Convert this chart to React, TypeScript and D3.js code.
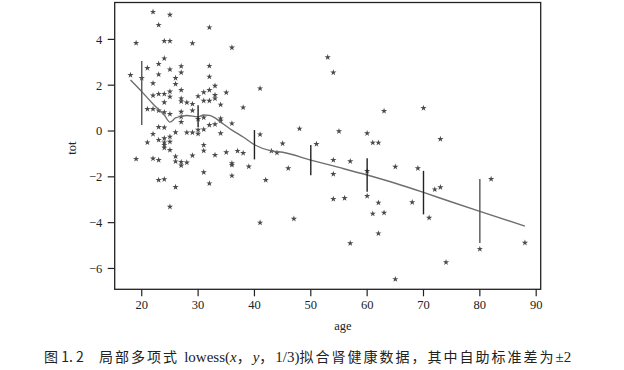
import React, { useEffect, useRef } from "react";
import * as d3 from "d3";

// ---- data ----
const ages: number[] = [
  18, 19, 19, 20, 21, 21, 21,
  22, 22, 22, 22, 22, 22,
  23, 23, 23, 23, 23, 23, 23, 23, 23,
  24, 24, 24, 24, 24, 24, 24, 24, 24, 24, 24,
  25, 25, 25, 25, 25, 25, 25, 25, 25, 25,
  26, 26, 26, 26, 26, 26,
  27, 27, 27, 27, 27, 27, 27, 27, 27, 27,
  28, 28, 28,
  29, 29, 29, 29, 29,
  30, 30, 30, 30,
  31, 31, 31, 31, 31, 31, 31,
  32, 32, 32, 32, 32, 32, 32,
  33, 33, 33, 33, 33,
  34, 34, 34, 34,
  35, 35,
  36, 36, 36, 36, 36,
  37, 38, 38, 39,
  41, 41, 41, 42, 43, 44, 45, 46, 47, 48, 51, 53,
  54, 54, 54, 54, 55, 56, 57, 57,
  60, 60, 60, 61, 61, 62, 62, 62, 63, 63,
  65, 65, 68, 69, 70, 71, 72, 73, 73, 74, 80, 82, 88,
];
const tot: number[] = [
  2.44, 3.84, -1.22, 2.31, 2.75, 0.96, -0.5,
  5.2, 2.08, 1.55, 0.96, -0.13, -1.2,
  4.63, 2.93, 2.47, 1.62, 0.89, 0.17, -0.39, -1.27, -2.14,
  3.93, 3.17, 1.62, 1.25, 0.82, 0.15, -0.32, -0.5, -0.61, -0.73, -2.11,
  5.07, 3.93, 2.69, 1.72, 1.5, 0.74, -0.25, -0.47, -0.83, -3.31,
  2.31, 2.05, -0.06, -1.11, -1.33, -2.45,
  2.83, 2.55, 1.79, 1.42, 1.29, 0.84, 0.62, 0.39, -1.35, -1.51,
  1.24, -0.07, -1.38,
  3.83, 1.18, 0.89, -0.07, -1.07,
  1.52, 0.52, 0.05, -0.12,
  1.69, 1.32, 0.59, 0.07, -0.61, -0.86, -1.8,
  4.52, 2.84, 2.37, 1.79, 1.32, 0.26, -2.29,
  1.97, 1.57, 1.42, 0.29, -1.05,
  1.15, 0.55, 0.45, -0.1,
  1.68, -0.93,
  3.64, 0.33, -1.41, -1.48, -1.95,
  -0.87, 1.03, -0.96, -1.55,
  1.86, -0.15, -4.0, -2.14, -0.87, -0.95, -0.55, -1.63, -3.83, 0.1, -0.57, 3.22,
  2.55, -1.27, -1.88, -2.97, -0.01, -2.93, -1.32, -4.9,
  -0.1, -1.75, -2.84, -0.51, -3.61, -0.51, -3.13, -4.47, 0.87, -3.57,
  -1.56, -6.47, -3.11, -1.63, 1.0, -3.79, -2.55, -0.35, -2.46, -5.73, -5.15, -2.1, -4.88,
];

// lowess fit
const fitAges: number[] = [18, 20, 22, 24, 25, 26, 27, 28, 30, 31, 32, 33, 34, 36, 38, 40, 43, 45, 50, 55, 60, 65, 70, 75, 80, 88];
const fitVals: number[] = [2.23, 1.72, 1.18, 0.7, 0.39, 0.57, 0.64, 0.68, 0.62, 0.7, 0.68, 0.57, 0.39, 0.04, -0.26, -0.6, -0.87, -0.93, -1.27, -1.59, -1.92, -2.28, -2.68, -3.1, -3.51, -4.15];

// bootstrap +/- 2 SE bars
const barAges: number[] = [20, 30, 40, 50, 60, 70, 80];
const barCenters: number[] = [1.66, 0.65, -0.6, -1.27, -1.92, -2.69, -3.49];
const barHalf: number[] = [1.4, 0.47, 0.64, 0.66, 0.73, 0.95, 1.4];

const xTicks: number[] = [20, 30, 40, 50, 60, 70, 80, 90];
const yTicks: number[] = [4, 2, 0, -2, -4, -6];

const xLabel = "age";
const yLabel = "tot";
const captionHead = "图 1. 2";

export default function App() {
  const ref = useRef<SVGSVGElement>(null);

  useEffect(() => {
    const svg = d3.select(ref.current);
    svg.selectAll("*").remove();

    const left = 114.7, right = 540.7, top = 2.5, bottom = 289.3;
    const x = d3.scaleLinear().domain([15.2, 90.8]).range([left, right]);
    const y = d3.scaleLinear().domain([-6.91, 5.61]).range([bottom, top]);
    const serif = '"Liberation Serif", "Times New Roman", Times, "DejaVu Serif", serif';

    // box
    svg.append("rect")
      .attr("x", left).attr("y", top)
      .attr("width", right - left).attr("height", bottom - top)
      .attr("fill", "none").attr("stroke", "#222").attr("stroke-width", 1.3);

    // x axis
    const gx = svg.append("g");
    xTicks.forEach((t) => {
      gx.append("line")
        .attr("x1", x(t)).attr("x2", x(t))
        .attr("y1", bottom).attr("y2", bottom + 7)
        .attr("stroke", "#222").attr("stroke-width", 1.2);
      gx.append("text")
        .attr("x", x(t)).attr("y", bottom + 20)
        .attr("text-anchor", "middle")
        .style("font-family", serif).style("font-size", "12.5px")
        .attr("fill", "#222")
        .text(String(t));
    });

    // y axis
    const gy = svg.append("g");
    yTicks.forEach((t) => {
      gy.append("line")
        .attr("x1", left - 7).attr("x2", left)
        .attr("y1", y(t)).attr("y2", y(t))
        .attr("stroke", "#222").attr("stroke-width", 1.2);
      gy.append("text")
        .attr("x", left - 12.5).attr("y", y(t))
        .attr("dy", "0.35em")
        .attr("text-anchor", "end")
        .style("font-family", serif).style("font-size", "12.5px")
        .attr("fill", "#222")
        .text(t < 0 ? "\u2212" + Math.abs(t) : String(t));
    });

    // axis titles
    svg.append("text")
      .attr("x", (x(20) + x(90)) / 2 + 4).attr("y", bottom + 41)
      .attr("text-anchor", "middle")
      .style("font-family", serif).style("font-size", "12.5px").attr("fill", "#222")
      .text(xLabel);
    svg.append("text")
      .attr("transform", `translate(${76},${y(-0.75)}) rotate(-90)`)
      .attr("text-anchor", "middle")
      .style("font-family", serif).style("font-size", "12.5px").attr("fill", "#222")
      .text(yLabel);

    // points
    const star = d3.symbol().type(d3.symbolStar).size(12);
    svg.append("g").selectAll("path")
      .data(ages.map((a, i) => [a, tot[i]]))
      .join("path")
      .attr("d", star as any)
      .attr("transform", (d) => `translate(${x(d[0])},${y(d[1])})`)
      .attr("fill", "#4a4a4a");

    // lowess curve
    const line = d3.line<number>()
      .x((_, i) => x(fitAges[i]))
      .y((d) => y(d))
      .curve(d3.curveMonotoneX);
    svg.append("path")
      .attr("d", line(fitVals) as string)
      .attr("fill", "none").attr("stroke", "#6e6e6e").attr("stroke-width", 1.4);

    // error bars
    barAges.forEach((a, i) => {
      svg.append("line")
        .attr("x1", x(a)).attr("x2", x(a))
        .attr("y1", y(barCenters[i] + barHalf[i]))
        .attr("y2", y(barCenters[i] - barHalf[i]))
        .attr("stroke", i === 0 || i === 6 ? "#555" : "#222")
        .attr("stroke-width", 1.4);
    });

    // caption
    const cjk = '"Noto Sans CJK SC", "Noto Sans CJK JP", sans-serif';
    svg.append("text")
      .attr("x", 44).attr("y", 362)
      .style("font-family", cjk).style("font-size", "14px").attr("fill", "#222")
      .text(captionHead);
    const cap = svg.append("text")
      .attr("x", 99).attr("y", 362)
      .style("font-family", cjk).style("font-size", "14px").attr("fill", "#222");
    cap.append("tspan").style("letter-spacing", "2px").text("局部多项式 ");
    cap.append("tspan").style("font-family", serif).style("font-size", "15px").text("lowess(");
    cap.append("tspan").style("font-family", serif).style("font-size", "15px").style("font-style", "italic").text("x");
    cap.append("tspan").style("letter-spacing", "2px").text("，");
    cap.append("tspan").style("font-family", serif).style("font-size", "15px").style("font-style", "italic").text("y");
    cap.append("tspan").style("letter-spacing", "2px").text("，");
    cap.append("tspan").style("font-family", serif).style("font-size", "15px").text("1/3)");
    cap.append("tspan").style("letter-spacing", "2px").text("拟合肾健康数据，其中自助标准差为");
    cap.append("tspan").style("font-family", serif).style("font-size", "15px").text("±2");
  }, []);

  return (
    <svg
      ref={ref}
      width={624}
      height={370}
      style={{ position: "absolute", left: 0, top: 0, background: "#fff" }}
    />
  );
}
